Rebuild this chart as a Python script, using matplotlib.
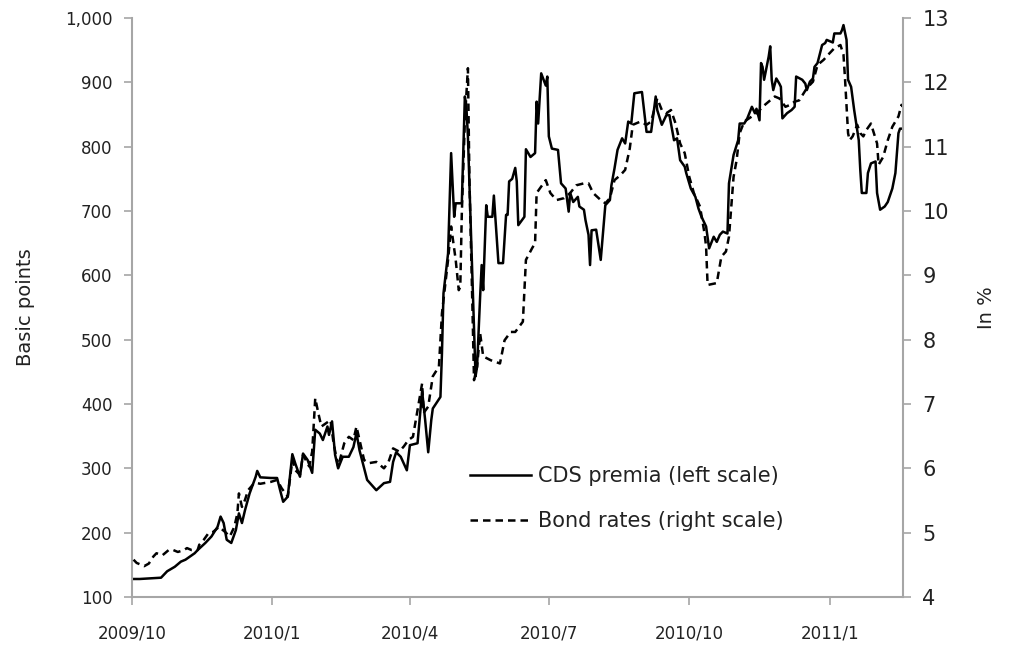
import matplotlib
matplotlib.use("Agg")
import matplotlib.pyplot as plt
import pandas as pd

start = pd.Timestamp("2009-10-01")

# CDS premia (basis points), days since 2009-10-01
cds_days = [1, 5, 19, 23, 28, 32, 35, 38, 41, 43, 48, 52, 56, 58, 60, 62, 65, 68, 70, 72,
            74, 77, 81, 82, 84, 91, 95, 97, 99, 102, 105, 107, 110, 112, 115, 118, 120, 123,
            125, 128, 129, 131, 133, 135, 138, 142, 145, 147, 149, 154, 160, 165, 169, 171,
            173, 176, 180, 182, 187, 190, 192, 194, 196, 197, 202, 203, 204, 207, 209, 211,
            212, 216, 218, 219, 220, 225, 226, 228, 229, 230, 232, 233, 236, 237, 240, 243,
            245, 246, 247, 249, 251, 252, 253, 257, 258, 261, 264, 265, 266, 268, 271, 272,
            273, 275, 279, 281, 284, 286, 287, 289, 292, 293, 296, 297, 299, 300, 301, 304,
            307, 310, 313, 314, 316, 318, 321, 323, 325, 327, 329, 334, 337, 340, 343, 344,
            347, 350, 352, 355, 357, 359, 362, 363, 366, 369, 371, 373, 376, 378, 381, 383,
            385, 387, 390, 391, 394, 397, 398, 401, 403, 406, 408, 409, 411, 412, 413, 414,
            417, 418, 419, 420, 422, 424, 425, 426, 429, 432, 434, 435, 439, 441, 442, 444,
            446, 447, 449, 452, 454, 455, 459, 460, 464, 465, 466, 468, 469, 471, 473, 476,
            477, 478, 481, 482, 484, 487, 488, 490, 493, 495, 497, 498, 500, 502, 503, 505]
cds_values = [128, 128, 130, 140, 147, 155, 158, 163, 168, 173, 184, 194, 209, 225, 215, 189,
              184, 204, 230, 215, 235, 261, 287, 296, 286, 285, 285, 266, 248, 256, 322, 307,
              287, 323, 313, 293, 360, 354, 344, 365, 352, 373, 321, 300, 318, 318, 333, 355,
              328, 282, 266, 277, 279, 310, 325, 318, 297, 336, 339, 420, 375, 325, 375, 393,
              411, 479, 572, 634, 790, 691, 712, 712, 878, 862, 816, 443, 458, 567, 616, 577,
              709, 691, 691, 724, 619, 619, 694, 694, 746, 750, 767, 746, 678, 691, 796, 784,
              790, 870, 836, 914, 895, 909, 816, 797, 795, 743, 735, 699, 728, 714, 722, 707,
              702, 686, 663, 616, 670, 671, 624, 709, 717, 740, 766, 795, 813, 805, 839, 836,
              883, 885, 823, 823, 878, 857, 834, 849, 849, 810, 813, 779, 769, 759, 735, 722,
              704, 691, 676, 642, 660, 652, 663, 668, 665, 743, 787, 810, 836, 836, 844, 862,
              852, 859, 841, 930, 924, 904, 940, 956, 904, 888, 906, 898, 893, 844, 852, 857,
              862, 909, 904, 898, 888, 901, 906, 924, 930, 958, 961, 966, 962, 976, 976, 981,
              989, 966, 904, 893, 857, 810, 764, 728, 728, 759, 774, 777, 728, 702, 707, 714,
              728, 735, 759, 821, 828, 828]

# Bond rates (%), days since 2009-10-01
bond_days = [1, 3, 8, 11, 14, 16, 20, 24, 27, 30, 34, 36, 39, 43, 44, 47, 50, 53, 57, 61,
             64, 67, 69, 70, 72, 74, 76, 80, 82, 84, 91, 95, 98, 102, 105, 107, 110, 112, 116,
             118, 120, 122, 124, 127, 130, 132, 135, 139, 142, 145, 147, 149, 152, 155, 160,
             165, 168, 171, 175, 178, 181, 184, 190, 191, 194, 197, 201, 203, 205, 207, 209,
             212, 214, 215, 216, 218, 220, 221, 223, 224, 226, 228, 230, 235, 241, 244, 248,
             251, 256, 258, 262, 264, 265, 271, 274, 278, 283, 287, 291, 296, 299, 302, 307,
             310, 313, 316, 320, 323, 326, 328, 333, 337, 340, 344, 347, 350, 353, 356, 359,
             362, 365, 368, 372, 375, 376, 377, 383, 386, 389, 391, 394, 396, 398, 401, 406,
             410, 413, 418, 421, 424, 428, 431, 434, 437, 442, 446, 449, 453, 456, 460, 464,
             466, 467, 469, 470, 472, 475, 477, 479, 481, 484, 485, 488, 489, 492, 495, 498,
             502, 504, 505]
bond_values = [4.58, 4.53, 4.48, 4.52, 4.63, 4.68, 4.65, 4.73, 4.73, 4.70, 4.73, 4.76, 4.73,
               4.73, 4.81, 4.89, 4.99, 5.01, 5.09, 5.01, 4.94, 5.09, 5.30, 5.61, 5.40, 5.51,
               5.66, 5.77, 5.77, 5.76, 5.79, 5.82, 5.69, 5.56, 6.13, 5.97, 5.90, 6.21, 6.03,
               6.26, 7.09, 6.86, 6.65, 6.70, 6.75, 6.39, 6.03, 6.39, 6.49, 6.44, 6.65, 6.44,
               6.13, 6.08, 6.10, 6.00, 6.10, 6.31, 6.26, 6.34, 6.44, 6.49, 7.32, 6.86, 6.96,
               7.43, 7.58, 8.41, 8.82, 9.24, 9.76, 9.24, 8.77, 8.82, 9.96, 11.41, 12.22, 10.48,
               8.46, 7.37, 7.58, 8.10, 7.74, 7.68, 7.63, 7.99, 8.12, 8.12, 8.28, 9.24, 9.42,
               9.50, 10.28, 10.48, 10.28, 10.17, 10.20, 10.28, 10.40, 10.43, 10.43, 10.28,
               10.17, 10.12, 10.20, 10.48, 10.56, 10.64, 10.97, 11.34, 11.39, 11.34, 11.39,
               11.75, 11.57, 11.52, 11.57, 11.36, 11.05, 10.90, 10.53, 10.28, 10.07, 9.65,
               9.45, 8.85, 8.88, 9.29, 9.37, 9.60, 10.53, 10.79, 11.21, 11.39, 11.47, 11.54,
               11.62, 11.72, 11.78, 11.75, 11.62, 11.65, 11.70, 11.72, 11.91, 12.01, 12.27,
               12.35, 12.43, 12.53, 12.58, 12.43, 12.06, 11.21, 11.10, 11.16, 11.34, 11.21,
               11.16, 11.26, 11.36, 11.28, 11.05, 10.72, 10.84, 11.10, 11.31, 11.47, 11.65,
               11.62]

tick_dates = ["2009-10-01", "2010-01-01", "2010-04-01", "2010-07-01", "2010-10-01", "2011-01-01"]
tick_labels = ["2009/10", "2010/1", "2010/4", "2010/7", "2010/10", "2011/1"]

cds_x = start + pd.to_timedelta(cds_days, unit="D")
bond_x = start + pd.to_timedelta(bond_days, unit="D")

plt.rcParams["font.family"] = ["DejaVu Sans"]
spine_color = "#a6a6a6"

fig = plt.figure(figsize=(10.11, 6.48), dpi=100)
ax = fig.add_axes([0.1306, 0.0787, 0.7626, 0.8935])
ax2 = ax.twinx()

l1, = ax.plot(cds_x, cds_values, color="black", linewidth=1.8, label="CDS premia (left scale)")
l2, = ax2.plot(bond_x, bond_values, color="black", linewidth=1.8, linestyle=(0, (3, 2)),
               label="Bond rates (right scale)")

ax.set_xlim(start, start + pd.Timedelta(days=505))
ax.set_ylim(100, 1000)
ax2.set_ylim(4, 13)
ax.set_yticks(range(100, 1001, 100))
ax.set_yticklabels([f"{v:,}" for v in range(100, 1001, 100)])
ax2.set_yticks(range(4, 14))

ax.set_xticks(pd.to_datetime(tick_dates))
ax.set_xticklabels(tick_labels)

for a in (ax, ax2):
    a.spines["top"].set_visible(False)
    for s in ("left", "right", "bottom"):
        a.spines[s].set_color(spine_color)
        a.spines[s].set_linewidth(1.5)
    a.tick_params(colors=spine_color, labelcolor="#222222", labelsize=12, length=6, width=1.2)
ax.spines["right"].set_visible(False)
ax2.spines["left"].set_visible(False)
ax2.spines["bottom"].set_visible(False)
ax.tick_params(axis="x", pad=14)
ax.tick_params(axis="y", pad=8)
ax2.tick_params(axis="y", pad=8, labelsize=15)

ax.set_ylabel("Basic points", fontsize=14, color="#222222", labelpad=22)
ax2.set_ylabel("In %", fontsize=14, color="#222222", labelpad=20)

ax.legend(handles=[l1, l2], loc="upper left", bbox_to_anchor=(0.428, 0.24), frameon=False,
          fontsize=15, handlelength=2.9, handletextpad=0.35, labelspacing=1.2,
          borderaxespad=0, labelcolor="#222222")

plt.savefig("out.png", dpi=100)
